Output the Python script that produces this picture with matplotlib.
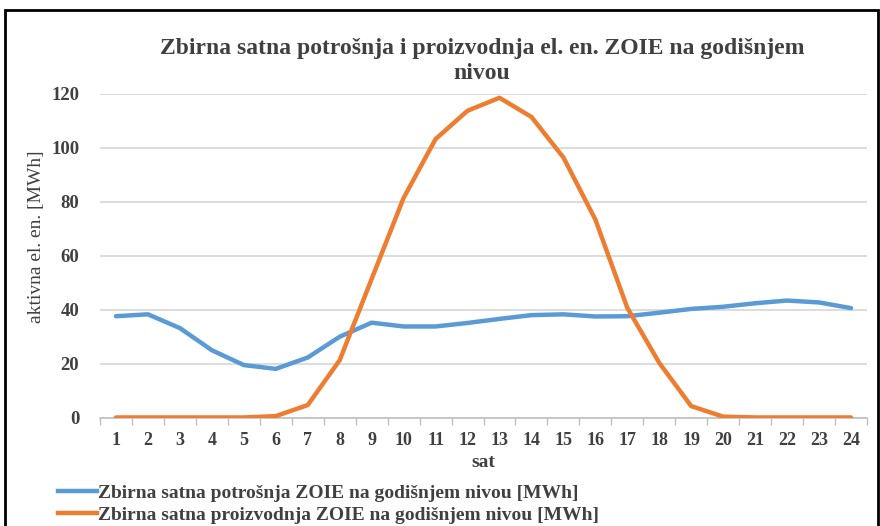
import numpy as np
import matplotlib.pyplot as plt
from matplotlib.patches import Rectangle
from matplotlib.lines import Line2D

hours = list(range(1, 25))
potrosnja = [37.7, 38.4, 33.3, 25.1, 19.6, 18.2, 22.4, 30.1, 35.3, 33.9, 33.9, 35.2,
             36.7, 38.1, 38.4, 37.6, 37.7, 39.0, 40.4, 41.2, 42.5, 43.5, 42.8, 40.7]
proizvodnja = [0.2, 0.2, 0.2, 0.2, 0.2, 0.7, 4.8, 21.4, 51.5, 81.5, 103.3, 113.8,
               118.6, 111.5, 96.5, 73.5, 40.8, 20.4, 4.4, 0.5, 0.2, 0.2, 0.2, 0.2]

title = "Zbirna satna potrošnja i proizvodnja el. en. ZOIE na godišnjem\nnivou"
ylabel = "aktivna el. en. [MWh]"
xlabel = "sat"
labels = ["Zbirna satna potrošnja ZOIE na godišnjem nivou [MWh]",
          "Zbirna satna proizvodnja ZOIE na godišnjem nivou [MWh]"]

blue = "#5B9BD5"
orange = "#ED7D31"
txt = "#404040"
grid = "#d9d9d9"

plt.rcParams['font.family'] = ['Liberation Serif', 'DejaVu Serif']
plt.rcParams['font.weight'] = 'bold'

W, H = 880, 526
fig = plt.figure(figsize=(W / 100, H / 100), dpi=100)
ax = fig.add_axes([100 / W, 1 - 418 / H, 767 / W, 324 / H])

ax.plot(hours, potrosnja, color=blue, lw=3.2, solid_capstyle='round', zorder=3)
ax.plot(hours, proizvodnja, color=orange, lw=3.2, solid_capstyle='round', zorder=3)

ax.set_xlim(0.5, 24.5)
ax.set_ylim(0, 120)
ax.set_yticks(np.arange(0, 121, 20))
ax.set_xticks(hours)
ax.set_xticks(np.arange(0.5, 25, 1), minor=True)
ax.tick_params(axis='x', which='major', length=0, pad=10, labelsize=13, labelcolor=txt)
ax.tick_params(axis='x', which='minor', length=5, color='#bfbfbf', width=1)
ax.tick_params(axis='y', length=0, pad=15, labelsize=13.5, labelcolor=txt)
ax.grid(axis='y', color=grid, lw=1.3, zorder=0)
for s in ['top', 'right', 'left']:
    ax.spines[s].set_visible(False)
ax.spines['bottom'].set_color('#bfbfbf')
ax.spines['bottom'].set_linewidth(1.2)

ax.set_ylabel(ylabel, fontsize=14, fontweight='normal', color=txt)
ax.yaxis.set_label_coords(-55 / 767, 0.56)
ax.set_xlabel(xlabel, fontsize=14, fontweight='bold', color=txt, labelpad=4)
fig.text(482 / W, 1 - 61 / H, title, ha='center', va='center', fontsize=17,
         color=txt, linespacing=1.2)

handles = [Line2D([], [], color=blue, lw=3.2), Line2D([], [], color=orange, lw=3.2)]
fig.legend(handles, labels, loc='lower left', bbox_to_anchor=(50 / W, -6 / H),
           frameon=False, fontsize=14, handlelength=2.0, handletextpad=0.05,
           labelspacing=0.25, borderaxespad=0, labelcolor=txt)

fig.patches.append(Rectangle((5 / W, -0.1), 873 / W, 1.1 - 10 / H,
                             transform=fig.transFigure, fill=False,
                             edgecolor='black', lw=2))

plt.savefig("out.png", dpi=100)
